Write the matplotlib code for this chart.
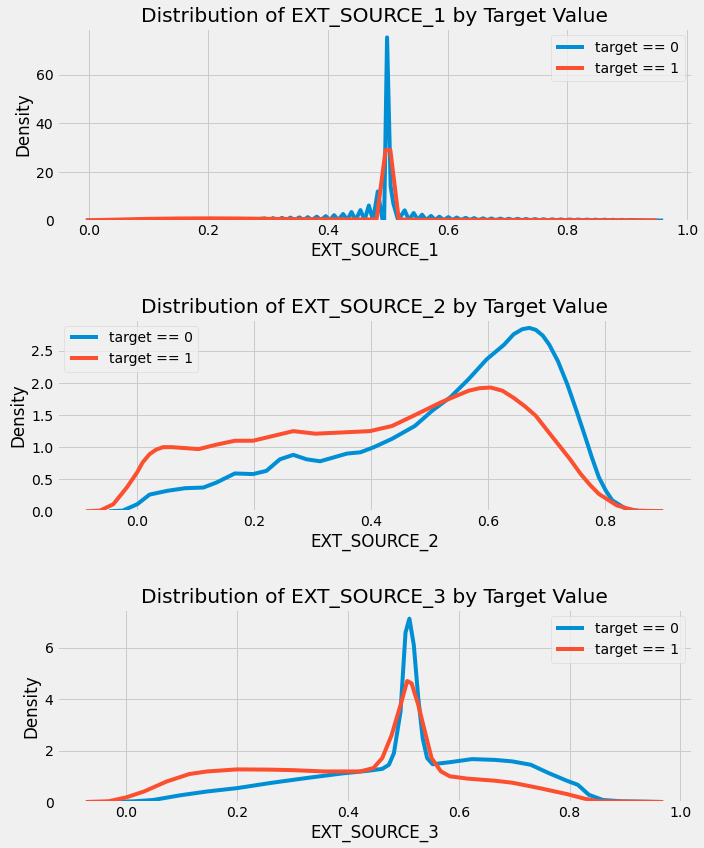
import numpy as np
import matplotlib
matplotlib.use('Agg')
from matplotlib import pyplot as plt

plt.style.use('fivethirtyeight')

# EXT_SOURCE_1 density curves
src1_x0 = [-0.005, 0.10, 0.20, 0.28,
           0.294, 0.301, 0.308, 0.315, 0.323, 0.330, 0.337, 0.344, 0.352, 0.359,
           0.366, 0.373, 0.381, 0.388, 0.396, 0.403, 0.410, 0.417, 0.425, 0.432,
           0.439, 0.446, 0.454, 0.461, 0.468, 0.475, 0.483,
           0.4905, 0.4935, 0.4985, 0.5045, 0.509, 0.517,
           0.528, 0.535, 0.543, 0.550, 0.557, 0.564, 0.572, 0.579, 0.586, 0.593,
           0.601, 0.608, 0.615, 0.622, 0.630, 0.637, 0.644, 0.651, 0.659, 0.666,
           0.673, 0.680, 0.688, 0.695, 0.702, 0.709, 0.717, 0.724, 0.731, 0.738,
           0.746, 0.753, 0.760, 0.767, 0.775, 0.782, 0.789, 0.796, 0.804, 0.811,
           0.818, 0.825, 0.833, 0.840, 0.847, 0.854, 0.862, 0.869, 0.876, 0.883,
           0.891, 0.898, 0.905, 0.93, 0.96]
src1_y0 = [0.0, 0.2, 0.35, 0.45,
           0.9, 0.2, 1.0, 0.2, 1.1, 0.2, 1.2, 0.2, 1.3, 0.2,
           1.4, 0.2, 1.6, 0.2, 1.8, 0.2, 2.2, 0.2, 2.7, 0.2,
           3.5, 0.2, 4.3, 0.2, 6.2, 0.2, 12.0,
           0.8, -1.5, 75.5, 14.0, 7.0, 0.2,
           4.2, 0.2, 3.1, 0.2, 2.4, 0.2, 1.9, 0.2, 1.6, 0.2,
           1.4, 0.2, 1.25, 0.2, 1.1, 0.2, 1.0, 0.15, 0.9, 0.15,
           0.85, 0.15, 0.8, 0.15, 0.75, 0.15, 0.7, 0.12, 0.65, 0.12,
           0.6, 0.12, 0.55, 0.1, 0.5, 0.1, 0.48, 0.1, 0.45, 0.08,
           0.42, 0.08, 0.4, 0.06, 0.37, 0.06, 0.35, 0.05, 0.3, 0.05,
           0.28, 0.04, 0.25, 0.05, 0.0]
src1_x1 = [-0.005, 0.05, 0.10, 0.15, 0.20, 0.25, 0.30, 0.35, 0.40, 0.45, 0.47,
           0.481, 0.496, 0.504, 0.518, 0.53, 0.60, 0.70, 0.80, 0.90, 0.95]
src1_y1 = [0.1, 0.4, 0.7, 0.85, 0.9, 0.85, 0.7, 0.6, 0.5, 0.45, 0.45,
           0.6, 29.0, 29.0, 0.6, 0.35, 0.3, 0.25, 0.2, 0.1, 0.05]

# EXT_SOURCE_2
src2_x0 = [-0.048, -0.025, 0.0, 0.021, 0.052, 0.082, 0.113, 0.136, 0.167, 0.198,
           0.221, 0.244, 0.267, 0.29, 0.313, 0.336, 0.359, 0.382, 0.405, 0.436,
           0.475, 0.505, 0.536, 0.567, 0.598, 0.628, 0.644, 0.659, 0.671, 0.682,
           0.694, 0.705, 0.72, 0.736, 0.752, 0.767, 0.778, 0.79, 0.802, 0.813,
           0.836, 0.859, 0.9]
src2_y0 = [0.0, 0.01, 0.11, 0.26, 0.32, 0.36, 0.37, 0.45, 0.59, 0.58,
           0.63, 0.81, 0.88, 0.81, 0.78, 0.84, 0.90, 0.92, 1.0, 1.13,
           1.33, 1.57, 1.78, 2.06, 2.37, 2.60, 2.76, 2.84, 2.86, 2.83,
           2.74, 2.60, 2.34, 1.98, 1.56, 1.15, 0.84, 0.53, 0.32, 0.17,
           0.04, 0.005, 0.0]
src2_x1 = [-0.088, -0.064, -0.041, -0.018, 0.0, 0.009, 0.021, 0.032, 0.044, 0.059,
           0.105, 0.136, 0.167, 0.198, 0.221, 0.267, 0.305, 0.352, 0.398, 0.436,
           0.475, 0.52, 0.567, 0.586, 0.605, 0.625, 0.644, 0.663, 0.682, 0.70,
           0.72, 0.74, 0.759, 0.775, 0.79, 0.821, 0.852, 0.9]
src2_y1 = [0.0, 0.01, 0.11, 0.37, 0.61, 0.76, 0.89, 0.96, 1.0, 1.0,
           0.97, 1.04, 1.10, 1.10, 1.15, 1.25, 1.21, 1.23, 1.25, 1.33,
           1.5, 1.70, 1.88, 1.92, 1.93, 1.88, 1.77, 1.64, 1.49, 1.28,
           1.05, 0.82, 0.58, 0.41, 0.27, 0.09, 0.01, 0.0]

# EXT_SOURCE_3
src3_x0 = [-0.073, -0.024, 0.016, 0.049, 0.097, 0.146, 0.2, 0.26, 0.324, 0.389,
           0.438, 0.462, 0.474, 0.483, 0.495, 0.504, 0.511, 0.519, 0.527, 0.535,
           0.543, 0.553, 0.584, 0.624, 0.665, 0.697, 0.73, 0.762, 0.795, 0.815,
           0.835, 0.86, 0.892, 0.969]
src3_y0 = [0.0, 0.0, 0.03, 0.08, 0.26, 0.41, 0.54, 0.74, 0.93, 1.11,
           1.22, 1.29, 1.45, 1.9, 3.52, 6.6, 7.14, 6.1, 4.04, 2.48,
           1.71, 1.47, 1.55, 1.67, 1.64, 1.58, 1.45, 1.13, 0.83, 0.67,
           0.28, 0.08, 0.03, 0.0]
src3_x1 = [-0.073, -0.032, 0.0, 0.032, 0.073, 0.114, 0.146, 0.2, 0.26, 0.3,
           0.357, 0.422, 0.446, 0.462, 0.479, 0.495, 0.507, 0.515, 0.527, 0.539,
           0.551, 0.568, 0.584, 0.616, 0.665, 0.697, 0.746, 0.795, 0.827, 0.852,
           0.969]
src3_y1 = [0.0, 0.03, 0.18, 0.41, 0.8, 1.09, 1.19, 1.27, 1.26, 1.24,
           1.19, 1.19, 1.32, 1.71, 2.61, 3.78, 4.71, 4.62, 3.78, 2.74,
           1.71, 1.19, 1.0, 0.91, 0.83, 0.75, 0.54, 0.31, 0.13, 0.03,
           0.0]

sources = ['EXT_SOURCE_1', 'EXT_SOURCE_2', 'EXT_SOURCE_3']
curves = [(src1_x0, src1_y0, src1_x1, src1_y1),
          (src2_x0, src2_y0, src2_x1, src2_y1),
          (src3_x0, src3_y0, src3_x1, src3_y1)]
legend_loc = ['upper right', 'upper left', 'upper right']
yticks = [[0, 20, 40, 60], [0.0, 0.5, 1.0, 1.5, 2.0, 2.5], [0, 2, 4, 6]]

plt.figure(figsize=(704 / 72, 848 / 72), dpi=72)
for i, source in enumerate(sources):
    plt.subplot(3, 1, i + 1)
    x0, y0, x1, y1 = curves[i]
    plt.plot(x0, y0, label='target == 0')
    plt.plot(x1, y1, label='target == 1')
    plt.ylim(bottom=0)
    plt.yticks(yticks[i])
    plt.legend(loc=legend_loc[i])
    plt.title('Distribution of %s by Target Value' % source)
    plt.xlabel('%s' % source); plt.ylabel('Density')

plt.subplots_adjust(left=57 / 704, right=692 / 704, top=1 - 28 / 848,
                    bottom=1 - 802 / 848, hspace=0.51)
plt.savefig('out.png', dpi=72)
